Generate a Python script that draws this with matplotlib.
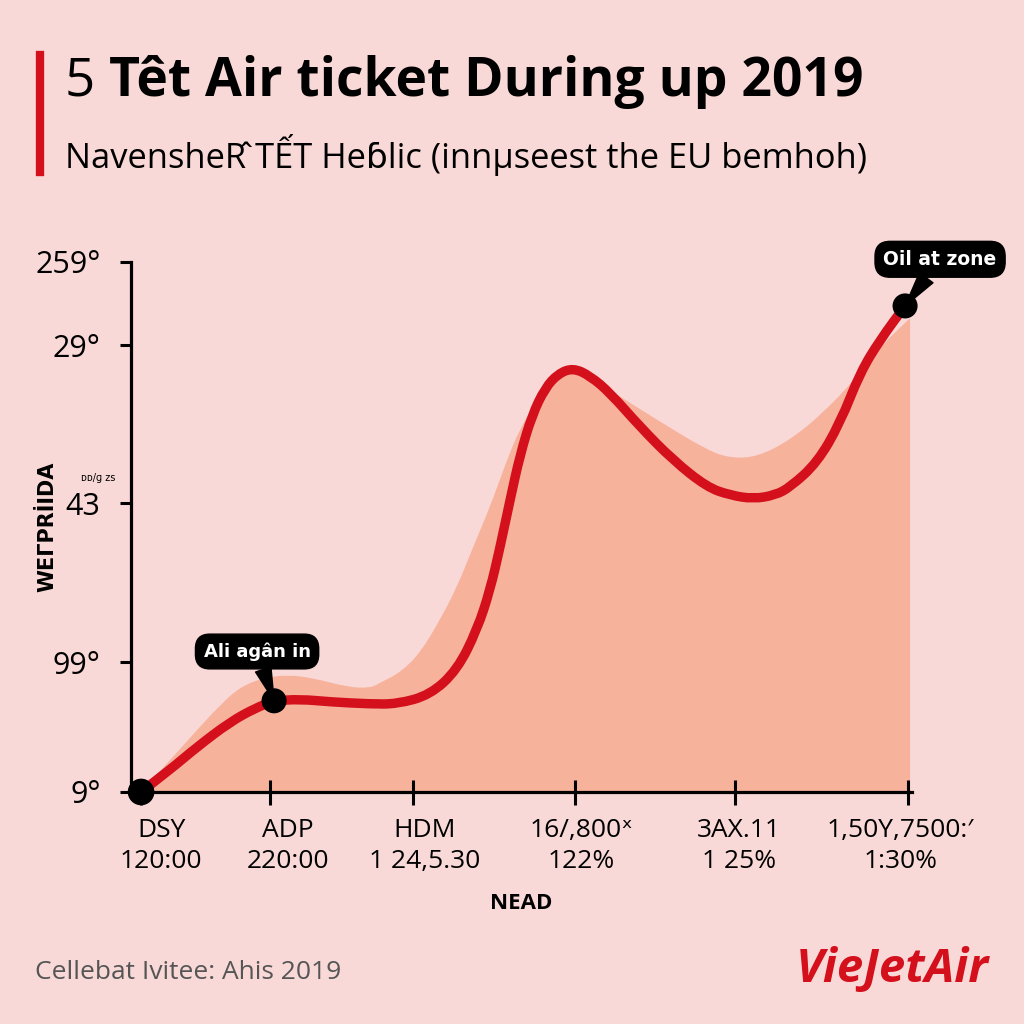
import matplotlib.pyplot as plt
from matplotlib.path import Path
from matplotlib.patches import PathPatch
from matplotlib.transforms import ScaledTranslation

# categories on the x axis (two line labels)
tick_pos = [0, 1.29, 2.72, 4.34, 5.94, 7.67]
tick_top = ["DSY", "ADP", "HDM", "16/,800\u02e3", "3AX.11", "1,50Y,7500:\u2032"]
tick_bot = ["120:00", "220:00", "1 24,5.30", "122%", "1 25%", "1:30%"]

ytick_pos = [0, 24.5, 54.5, 84.3, 100]
ytick_lab = ["9°", "99°", "43", "29°", "259°"]

# red price line
line_x = [0.00, 0.29, 0.56, 0.89, 1.14, 1.33, 1.59, 1.89, 2.29, 2.56, 2.89, 3.16,
          3.36, 3.49, 3.59, 3.69, 3.79, 3.91, 4.04, 4.17, 4.32, 4.49, 4.69, 4.99,
          5.32, 5.66, 5.89, 6.12, 6.34, 6.49, 6.76, 6.99, 7.19, 7.39, 7.64]
line_y = [0.0, 4.2, 8.5, 13.2, 15.8, 17.2, 17.5, 17.0, 16.6, 16.6, 18.3, 23.0,
          30.6, 38.1, 46.2, 55.1, 63.6, 71.1, 76.2, 78.9, 80.0, 78.5, 75.3, 68.9,
          62.6, 57.5, 56.0, 55.3, 56.0, 57.5, 62.1, 69.6, 79.1, 85.3, 91.7]

# salmon area behind it
area_x = [0.00, 0.29, 0.56, 0.79, 0.99, 1.22, 1.46, 1.72, 2.06, 2.29, 2.39, 2.59,
          2.79, 2.99, 3.16, 3.32, 3.49, 3.64, 3.79, 3.99, 4.14, 4.29, 4.49, 4.69,
          5.16, 5.66, 5.89, 6.16, 6.49, 6.82, 7.16, 7.39, 7.69]
area_y = [0.0, 6.0, 11.7, 16.4, 19.8, 21.5, 22.1, 21.5, 19.8, 19.6, 20.6, 22.5,
          26.2, 32.5, 38.7, 46.2, 53.8, 61.7, 68.7, 74.9, 78.1, 79.3, 78.1, 75.8,
          70.2, 64.5, 63.0, 63.2, 66.4, 71.5, 78.3, 84.0, 89.4]

dot_x = [0.00, 1.33, 7.64]
dot_y = [0.0, 17.2, 91.7]

notes = ["Ali agân in", "Oil at zone"]
note_at = [(1.33, 17.2), (7.64, 91.7)]

bg = "#f9d9d7"
red = "#d3101c"
font = ["Open Sans", "DejaVu Sans"]


def smooth(xs, ys):
    # quadratic bezier through the midpoints, read points act as controls
    verts = [(xs[0], ys[0])]
    codes = [Path.MOVETO]
    for i in range(1, len(xs) - 1):
        verts += [(xs[i], ys[i]), ((xs[i] + xs[i + 1]) / 2, (ys[i] + ys[i + 1]) / 2)]
        codes += [Path.CURVE3, Path.CURVE3]
    verts.append((xs[-1], ys[-1]))
    codes.append(Path.LINETO)
    return verts, codes


fig = plt.figure(figsize=(10.24, 10.24), dpi=100, facecolor=bg)
ax = fig.add_axes([0.128, 0.2266, 0.7627, 0.5176])
ax.set_facecolor(bg)

v, c = smooth(area_x, area_y)
v += [(area_x[-1], 0), (area_x[0], 0), (area_x[0], 0)]
c += [Path.LINETO, Path.LINETO, Path.CLOSEPOLY]
ax.add_patch(PathPatch(Path(v, c), fc="#f7b29c", lw=0, zorder=1))

v, c = smooth(line_x, line_y)
ax.add_patch(PathPatch(Path(v, c), fill=False, ec=red, lw=6.8,
                       capstyle="round", joinstyle="round", zorder=3))
ax.scatter(dot_x, dot_y, s=[330, 290, 290], color="black", zorder=5, clip_on=False)

ax.set_xlim(-0.10, 7.71)
ax.set_ylim(0, 100)
for s in ["top", "right"]:
    ax.spines[s].set_visible(False)
for s in ["left", "bottom"]:
    ax.spines[s].set_linewidth(2.3)
    ax.spines[s].set_zorder(2)

ax.set_yticks(ytick_pos)
ax.set_yticklabels(ytick_lab, fontsize=22, family=font)
ax.tick_params(axis="y", direction="out", length=8, width=2.2, pad=14)

ax.set_xticks(tick_pos)
ax.set_xticklabels([t + "\n" + b for t, b in zip(tick_top, tick_bot)],
                   fontsize=19, family=font, linespacing=1.3)
ax.tick_params(axis="x", direction="inout", length=18, width=2.2, pad=10)
x_shift = [20, 18, 12, 6, 4, -8]
for lab, dx in zip(ax.get_xticklabels(), x_shift):
    lab.set_transform(lab.get_transform() + ScaledTranslation(dx / 100, 0, fig.dpi_scale_trans))

ax.set_xlabel("NEAD", fontsize=16, fontweight="bold", family=font, labelpad=14)
ax.set_ylabel("WE\u0393PR\u0130IDA", fontsize=15, fontweight="bold")
ax.yaxis.set_label_coords(-0.095, 0.5)

# tiny scribble above the 43 label
ax.text(-0.43, 58.3, "\u1d05\u1d05/\u0261 \u1d22s", fontsize=7, ha="center", va="bottom")

# speech bubbles
bubble = dict(boxstyle="round,pad=0.45,rounding_size=0.8", fc="black", ec="black")
wedge = dict(arrowstyle="wedge,tail_width=0.9", fc="black", ec="black",
             shrinkA=0, shrinkB=0)
ax.annotate(notes[0], xy=note_at[0], xytext=(1.16, 26.5), color="white",
            fontsize=13, fontweight="bold", ha="center", va="center", bbox=bubble,
            arrowprops=wedge, zorder=6, annotation_clip=False)
ax.annotate(notes[1], xy=note_at[1], xytext=(7.99, 100.5), color="white",
            fontsize=13.5, fontweight="bold", ha="center", va="center", bbox=bubble,
            arrowprops=wedge, zorder=6, annotation_clip=False)

# header
fig.add_artist(plt.Line2D([0.039, 0.039], [0.832, 0.946], color=red, lw=6))
t1 = fig.text(0.063, 0.92, "5 ", fontsize=38, family=font, va="center")
fig.canvas.draw()
bb = t1.get_window_extent()
fig.text(bb.x1 / 1024, 0.92, "Têt Air ticket During up 2019", fontsize=38.5,
         fontweight="bold", family=font, va="center")
fig.text(0.063, 0.849, "NavensheR\u0302 TẾT He\u0253lic (inn\u03bcseest the EU bemhoh)",
         fontsize=24.8, family=font, va="center")

# footer
fig.text(0.034, 0.05, "Cellebat Ivitee: Ahis 2019", fontsize=19, family=font,
         color="#555555", va="center")
fig.text(0.966, 0.053, "VieJetAir", fontsize=34, fontweight="bold", style="italic",
         family=font, color=red, ha="right", va="center")

fig.savefig("out.png", dpi=100, facecolor=bg)
